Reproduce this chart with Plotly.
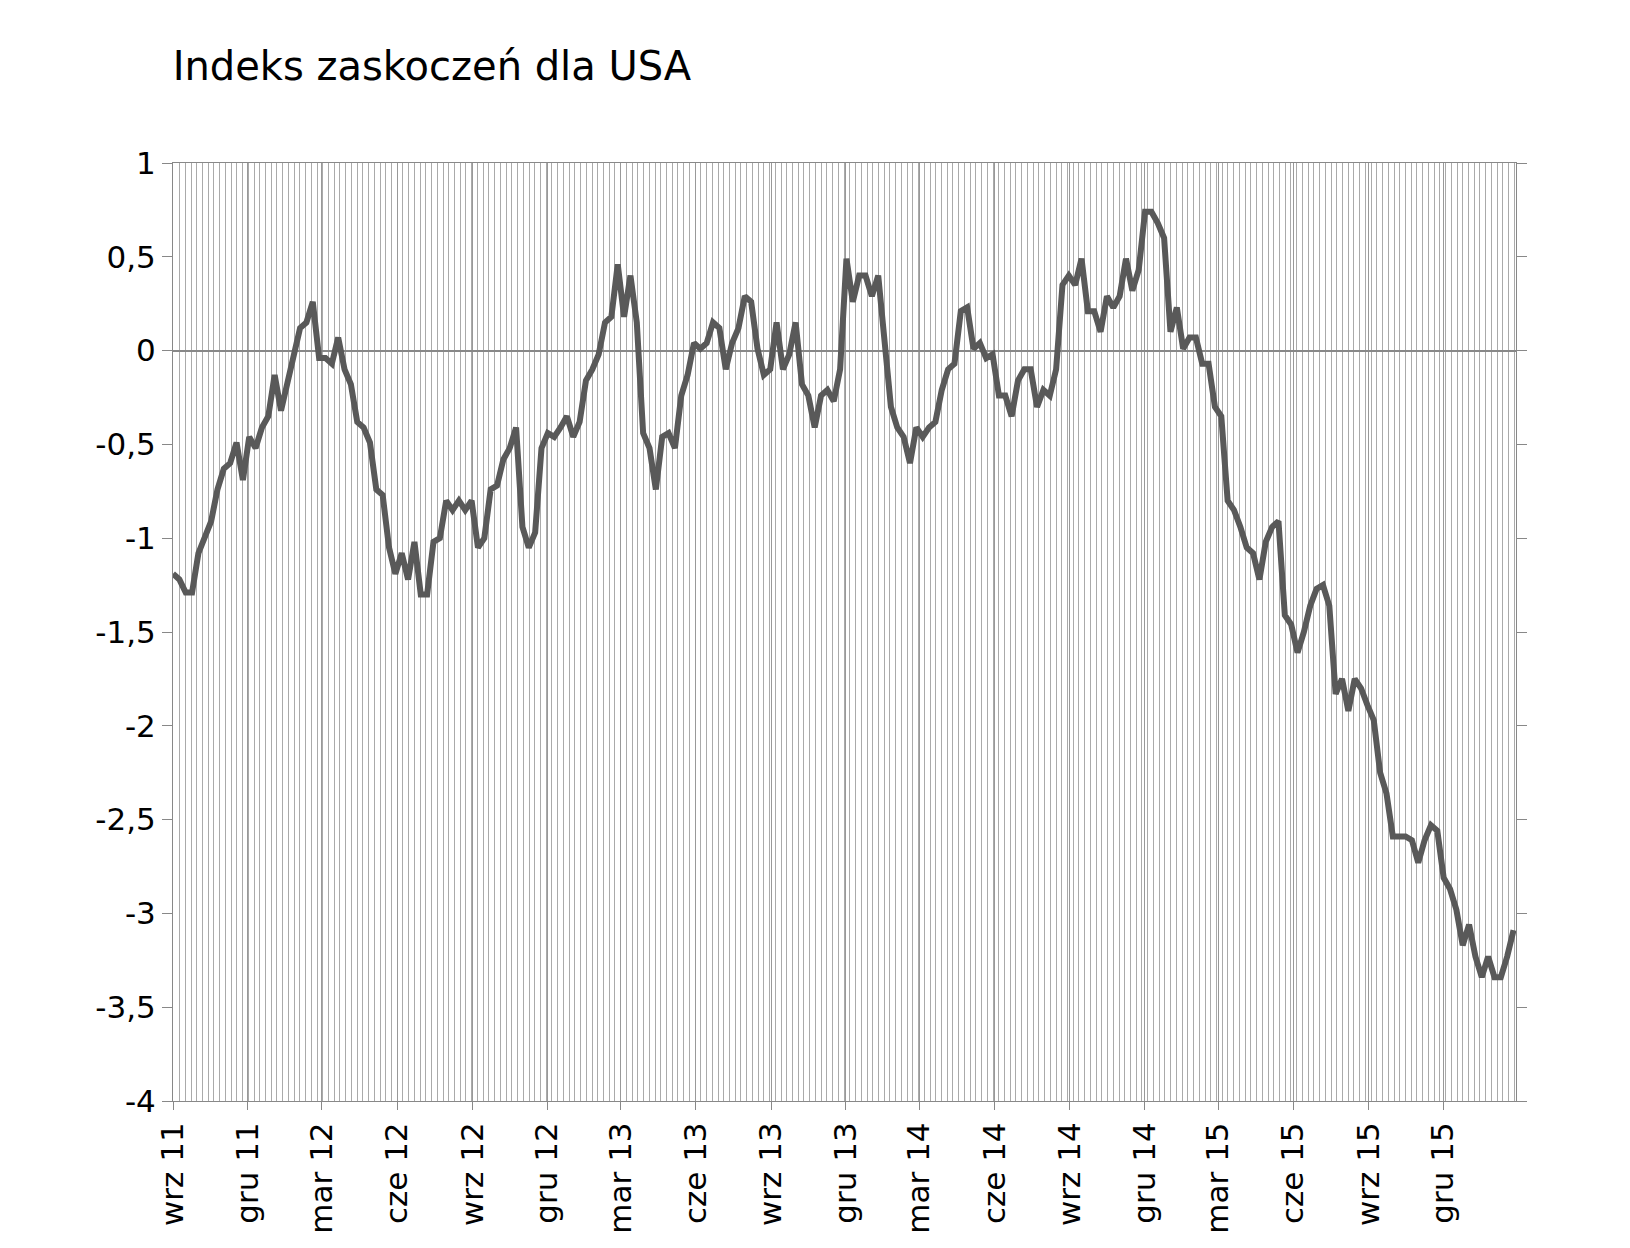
import pandas as pd
import plotly.graph_objects as go

values = [-1.19,-1.22,-1.29,-1.29,-1.08,-1.0,-0.91,-0.74,-0.63,-0.6,-0.49,-0.69,-0.46,-0.52,-0.41,-0.35,-0.13,-0.32,-0.18,-0.04,
0.12,0.15,0.26,-0.04,-0.04,-0.07,0.07,-0.10,-0.18,-0.38,-0.41,-0.49,-0.74,-0.77,-1.05,-1.19,-1.08,-1.22,-1.02,-1.30,
-1.30,-1.02,-1.0,-0.80,-0.85,-0.80,-0.85,-0.80,-1.05,-1.0,-0.74,-0.72,-0.58,-0.52,-0.41,-0.94,-1.05,-0.97,-0.52,-0.44,
-0.46,-0.41,-0.35,-0.46,-0.38,-0.16,-0.10,-0.02,0.15,0.18,0.46,0.18,0.40,0.15,-0.44,-0.52,-0.74,-0.46,-0.44,-0.52,
-0.24,-0.13,0.04,0.01,0.04,0.15,0.12,-0.10,0.04,0.12,0.29,0.26,0.01,-0.13,-0.10,0.15,-0.10,-0.02,0.15,-0.18,
-0.24,-0.41,-0.24,-0.21,-0.27,-0.10,0.49,0.26,0.40,0.40,0.29,0.40,0.04,-0.30,-0.41,-0.46,-0.60,-0.41,-0.46,-0.41,
-0.38,-0.21,-0.10,-0.07,0.21,0.23,0.01,0.04,-0.04,-0.02,-0.24,-0.24,-0.35,-0.16,-0.10,-0.10,-0.30,-0.21,-0.24,-0.10,
0.35,0.40,0.35,0.49,0.21,0.21,0.10,0.29,0.23,0.29,0.49,0.32,0.43,0.74,0.74,0.68,0.60,0.10,0.23,0.01,
0.07,0.07,-0.07,-0.07,-0.30,-0.35,-0.80,-0.85,-0.94,-1.05,-1.08,-1.22,-1.02,-0.94,-0.91,-1.41,-1.46,-1.61,-1.50,-1.36,
-1.27,-1.25,-1.36,-1.83,-1.75,-1.92,-1.75,-1.80,-1.89,-1.97,-2.25,-2.36,-2.59,-2.59,-2.59,-2.61,-2.73,-2.61,-2.53,-2.56,
-2.81,-2.87,-2.98,-3.17,-3.06,-3.23,-3.34,-3.23,-3.34,-3.34,-3.23,-3.09]

tick_dates = ["2011-09-01","2011-12-01","2012-03-01","2012-06-01","2012-09-01","2012-12-01","2013-03-01","2013-06-01",
"2013-09-01","2013-12-01","2014-03-01","2014-06-01","2014-09-01","2014-12-01","2015-03-01","2015-06-01","2015-09-01","2015-12-01"]
tick_labels = ["wrz 11","gru 11","mar 12","cze 12","wrz 12","gru 12","mar 13","cze 13","wrz 13","gru 13",
"mar 14","cze 14","wrz 14","gru 14","mar 15","cze 15","wrz 15","gru 15"]

dates = pd.date_range("2011-09-01", "2016-02-25", periods=len(values))

fig = go.Figure(go.Scatter(x=dates, y=values, mode="lines", line=dict(color="#595959", width=6)))
fig.update_layout(
    width=1630, height=1248, plot_bgcolor="white", paper_bgcolor="white",
    margin=dict(l=165, r=122, t=155, b=155), showlegend=False,
    font=dict(family="DejaVu Sans", size=31, color="black"),
    title=dict(text="Indeks zaskoczeń dla USA", x=0.101, xanchor="left", y=0.965, font=dict(size=40)),
)
fig.update_xaxes(type="date", range=["2011-09-01","2016-02-28"], tickvals=tick_dates, ticktext=tick_labels,
    tickangle=-90, showgrid=True, gridcolor="#999", gridwidth=1, ticks="outside", ticklen=8, tickcolor="#888",
    showline=True, linecolor="#888", mirror=True,
    minor=dict(dtick=7*86400000, tick0="2011-09-02", showgrid=True, gridcolor="#aaa", gridwidth=1))
fig.update_yaxes(range=[-4,1], showgrid=False,
    ticks="outside", ticklen=10, tickcolor="#888", showline=True, linecolor="#888", mirror="ticks",
    zeroline=True, zerolinecolor="#888", zerolinewidth=2,
    tickvals=[1,0.5,0,-0.5,-1,-1.5,-2,-2.5,-3,-3.5,-4],
    ticktext=["1","0,5","0","-0,5","-1","-1,5","-2","-2,5","-3","-3,5","-4"])
fig.write_html("out.html")
